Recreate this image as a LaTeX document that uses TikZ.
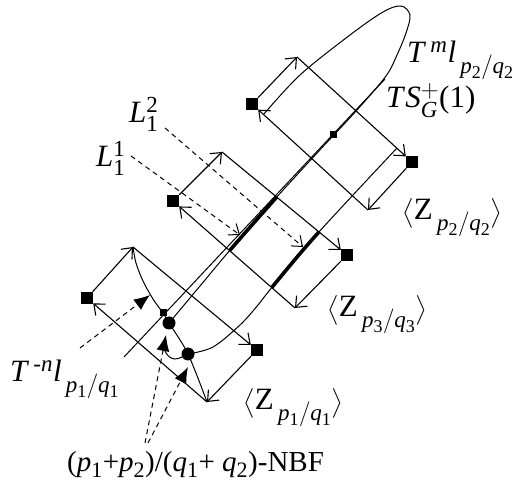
\documentclass[tikz,border=0pt]{standalone}
\usepackage{amsmath}
\usepackage{fontspec}
\setmainfont{Liberation Serif}
\usetikzlibrary{arrows.meta}
\DeclareMathSizes{31}{31}{23}{18}
\DeclareMathSizes{29}{29}{22}{17}
\newcommand{\vi}[1]{\text{\textit{#1}}}
\newcommand{\vr}[1]{\text{#1}}
\begin{document}
\begin{tikzpicture}[x=1pt,y=-1pt,
  oarrow/.style={line width=1.1pt,-{Straight Barb[length=9pt,width=15pt,line width=1.1pt]}},
  sq/.style={fill=black,inner sep=0pt,minimum size=12pt},
  ssq/.style={fill=black,inner sep=0pt,minimum size=7pt},
  bigdot/.style={circle,fill=black,inner sep=0pt,minimum size=13pt},
  curve/.style={line width=1pt},
  thickc/.style={line width=3.6pt},
  dlab/.style={dashed,dash pattern=on 5pt off 4pt,line width=1pt,-{Straight Barb[length=9pt,width=14pt,line width=1pt]}},
  dtri/.style={dashed,dash pattern=on 5pt off 4pt,line width=1pt,-{Latex[length=16pt,width=13pt]}},
  lab/.style={anchor=base west,inner sep=0pt,font=\fontsize{31}{36}\selectfont}
]
\useasboundingbox (0,0) rectangle (515,486);

% corner points
\node[sq] (L1) at (87,298) {};
\coordinate (T1) at (133,247);
\node[sq] (R1) at (257,350) {};
\coordinate (B1) at (207,402);
\node[sq] (L2) at (173,201) {};
\coordinate (T2) at (222,152);
\node[sq] (R2) at (347,255) {};
\coordinate (B2) at (295,308);
\node[sq] (L3) at (252,104) {};
\coordinate (T3) at (297,57);
\node[sq] (R3) at (412,162) {};
\coordinate (B3) at (368,210);

% rectangles with arrows
\foreach \i in {1,2,3}{
  \draw[oarrow] (L\i) -- (T\i);
  \draw[oarrow] (T\i) -- (R\i);
  \draw[oarrow] (R\i) -- (B\i);
  \draw[oarrow] (B\i) -- (L\i);
}

% TS line
\coordinate (ts0) at (124,357);
\coordinate (ts1) at (385,79);
\draw[curve] (ts0) -- (ts1);

% loop T^m l
\def\looppath{plot[smooth,tension=0.55] coordinates {(264,114) (300,75) (350,35) (383,12) (401,6) (410,15) (406,33) (397,55) (386,76) (357,110) (318,152) (275,199) (231,249) (200,286) (169,323)}}
\draw[curve] \looppath;
% curve from dot2 up to rect 3
\def\rightpath{plot[smooth,tension=0.55] coordinates {(188,354) (213,347) (240,325) (258,305) (273,286) (318,233) (397,148)}}
\draw[curve] \rightpath;
% T^{-n} l curve
\draw[curve] plot[smooth,tension=0.55] coordinates {(133,247) (136,263) (143,281) (153,299) (163,313) (169,323) (188,354) (207,402)};
% bottom arc
\draw[curve] plot[smooth,tension=0.7] coordinates {(188,354) (175,359) (166,353) (164,343)};

% thick parts inside rectangle 2
\begin{scope}
  \clip (173,201) -- (222,152) -- (347,255) -- (295,308) -- cycle;
  \draw[thickc] \looppath;
  \draw[thickc] \rightpath;
\end{scope}

% small squares and dots
\node[ssq] (s1) at (163,313) {};
\node[ssq] (s2) at (333,135) {};
\node[bigdot] (d1) at (169,323) {};
\node[bigdot] (d2) at (188,354) {};

% labels
\node[lab] (lT) at (407,63) {$\vi{T}^{\,\vi{m}}\vi{l}_{\,\vi{p}_{\vr{2}}/\vi{q}_{\vr{2}}}$};
\node[lab] (lTS) at (386,108) {$\vi{T}\vi{S}^{+}_{\vi{G}}\vr{(1)}$};
\node[lab] (lL2) at (129,123) {$\vi{L}^{\vr{2}}_{\vr{1}}$};
\node[lab] (lL1) at (96,167) {$\vi{L}^{\vr{1}}_{\vr{1}}$};
\node[lab] (lZ2) at (402,220) {$\bigl\langle\vr{Z}_{\,\vi{p}_{\vr{2}}/\vi{q}_{\vr{2}}}\bigr\rangle$};
\node[lab] (lZ3) at (327,317) {$\bigl\langle\vr{Z}_{\,\vi{p}_{\vr{3}}/\vi{q}_{\vr{3}}}\bigr\rangle$};
\node[lab] (lZ1) at (243,410) {$\bigl\langle\vr{Z}_{\,\vi{p}_{\vr{1}}/\vi{q}_{\vr{1}}}\bigr\rangle$};
\node[lab] (lTn) at (10,382) {$\vi{T}^{\,\vr{-}\vi{n}}\vi{l}_{\,\vi{p}_{\vr{1}}/\vi{q}_{\vr{1}}}$};
\node[lab,font=\fontsize{29}{34}\selectfont] (lN) at (67,472) {(\textit{p}$_{\text{1}}$+\textit{p}$_{\text{2}}$)/(\textit{q}$_{\text{1}}$+ \textit{q}$_{\text{2}}$)-NBF};

% dashed pointers
\coordinate (a1) at (131,156);
\coordinate (a1e) at (240,235);
\coordinate (a2) at (165,128);
\coordinate (a2e) at (303,247);
\draw[dlab] (a1) -- (a1e);
\draw[dlab] (a2) -- (a2e);
\coordinate (b0) at (80,348);
\coordinate (b0e) at (150,295);
\draw[dtri] (b0) -- (b0e);
\coordinate (c0) at (145,443);
\coordinate (c0e) at (166,335);
\coordinate (c1) at (148,443);
\coordinate (c1e) at (188,367);
\draw[dtri] (c0) -- (c0e);
\draw[dtri] (c1) -- (c1e);
\end{tikzpicture}
\end{document}
